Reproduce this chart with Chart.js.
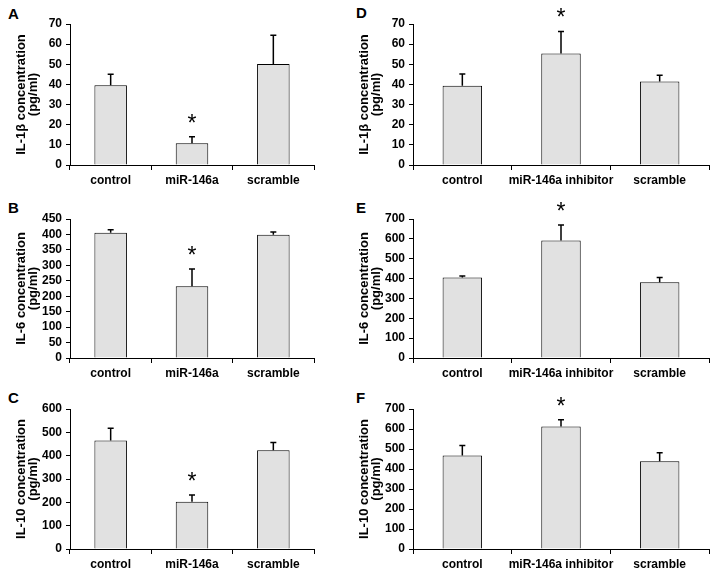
<!DOCTYPE html>
<html>
<head>
<meta charset="utf-8">
<script src="https://cdn.jsdelivr.net/npm/chart.js@4"></script>
<style>
  body { margin: 0; background: #fff; width: 721px; height: 576px; position: relative; overflow: hidden; font-family: "Liberation Sans", Arial, sans-serif; }
  .panel { position: absolute; }
  .letter { position: absolute; font-weight: bold; font-size: 15px; line-height: 15px; color: #000; }
</style>
</head>
<body>
<div class="letter" style="left:8px;top:6px">A</div>
<div class="letter" style="left:8px;top:200px">B</div>
<div class="letter" style="left:8px;top:390px">C</div>
<div class="letter" style="left:356px;top:5px">D</div>
<div class="letter" style="left:356px;top:200px">E</div>
<div class="letter" style="left:356px;top:390px">F</div>

<div class="panel" style="left:0;top:0;width:330px;height:192px"><canvas id="chartA"></canvas></div>
<div class="panel" style="left:0;top:192px;width:330px;height:193px"><canvas id="chartB"></canvas></div>
<div class="panel" style="left:0;top:385px;width:330px;height:191px"><canvas id="chartC"></canvas></div>
<div class="panel" style="left:345px;top:0;width:376px;height:192px"><canvas id="chartD"></canvas></div>
<div class="panel" style="left:345px;top:192px;width:376px;height:193px"><canvas id="chartE"></canvas></div>
<div class="panel" style="left:345px;top:385px;width:376px;height:191px"><canvas id="chartF"></canvas></div>

<script>
// categories
const mimicGroups = ["control", "miR-146a", "scramble"];
const inhibitorGroups = ["control", "miR-146a inhibitor", "scramble"];

// which bar gets an asterisk
const mimicStars = [false, true, false];
const inhibitorStars = [false, true, false];

// means and upper error (pg/ml)
const il1bMimic = [39.6, 10.8, 50.2];
const il1bMimicErr = [5.4, 3.2, 14.2];
const il6Mimic = [405.8, 232.5, 399.4];
const il6MimicErr = [9.7, 56, 8.6];
const il10Mimic = [465, 203, 423];
const il10MimicErr = [52.7, 28, 33.7];

const il1bInhibitor = [39.4, 55.4, 41.4];
const il1bInhibitorErr = [5.8, 10.9, 3.1];
const il6Inhibitor = [405, 592, 381];
const il6InhibitorErr = [8, 78, 25];
const il10Inhibitor = [467, 612, 439];
const il10InhibitorErr = [50, 34, 42];

// y tick labels
const ticksIL1b = [0, 10, 20, 30, 40, 50, 60, 70];
const ticksIL6Mimic = [0, 50, 100, 150, 200, 250, 300, 350, 400, 450];
const ticksIL10Mimic = [0, 100, 200, 300, 400, 500, 600];
const ticks700 = [0, 100, 200, 300, 400, 500, 600, 700];

const FONT = "'Liberation Sans', Arial, sans-serif";

// whiskers (upper only) + significance asterisk
const errorBars = {
  id: "errorBars",
  afterDatasetsDraw(chart) {
    const { ctx } = chart;
    const y = chart.scales.y;
    const ds = chart.data.datasets[0];
    const meta = chart.getDatasetMeta(0);
    ctx.save();
    ctx.strokeStyle = "#000";
    ctx.lineWidth = 1.5;
    meta.data.forEach((bar, i) => {
      const top = y.getPixelForValue(ds.data[i] + ds.errors[i]);
      ctx.beginPath();
      ctx.moveTo(bar.x, bar.y);
      ctx.lineTo(bar.x, top);
      ctx.moveTo(bar.x - 3, top);
      ctx.lineTo(bar.x + 3, top);
      ctx.stroke();
      if (ds.stars[i]) {
        ctx.fillStyle = "#000";
        ctx.font = "23px " + FONT;
        ctx.textAlign = "center";
        ctx.textBaseline = "alphabetic";
        ctx.fillText("*", bar.x, top - 6);
      }
    });
    ctx.restore();
  }
};

function panel(id, labels, values, errors, stars, ticks, title, yWidth, padRight, padTop, titlePad) {
  new Chart(document.getElementById(id), {
    type: "bar",
    data: {
      labels: labels,
      datasets: [{
        data: values,
        errors: errors,
        stars: stars,
        backgroundColor: "#e1e1e1",
        borderColor: "#000",
        borderWidth: 1,
        borderSkipped: "bottom",
        barPercentage: 0.4,
        categoryPercentage: 1
      }]
    },
    options: {
      responsive: true,
      maintainAspectRatio: false,
      animation: false,
      layout: { padding: { left: 0, top: padTop, right: padRight, bottom: 0 } },
      plugins: { legend: { display: false }, tooltip: { enabled: false } },
      scales: {
        x: {
          offset: true,
          grid: { offset: true, drawOnChartArea: false, drawTicks: true, tickLength: 5, color: "#000" },
          border: { display: true, color: "#000", width: 1 },
          ticks: {
            color: "#000",
            padding: 3,
            maxRotation: 0,
            autoSkip: false,
            font: { family: FONT, size: 12, weight: "bold" }
          },
          afterFit(axis) { axis.height = 27; }
        },
        y: {
          min: ticks[0],
          max: ticks[ticks.length - 1],
          grid: { drawOnChartArea: false, drawTicks: true, tickLength: 4, color: "#000" },
          border: { display: true, color: "#000", width: 1 },
          ticks: {
            stepSize: ticks[1] - ticks[0],
            autoSkip: false,
            color: "#000",
            padding: 4,
            font: { family: FONT, size: 12, weight: "bold" }
          },
          title: {
            display: true,
            text: [title, "(pg/ml)"],
            color: "#000",
            padding: { top: titlePad, bottom: 0 },
            font: { family: FONT, size: 13, weight: "bold", lineHeight: 0.95 }
          },
          afterFit(axis) { axis.width = yWidth; }
        }
      }
    },
    plugins: [errorBars]
  });
}

panel("chartA", mimicGroups, il1bMimic, il1bMimicErr, mimicStars, ticksIL1b, "IL-1\u03b2 concentration", 70, 16, 24, 15);
panel("chartB", mimicGroups, il6Mimic, il6MimicErr, mimicStars, ticksIL6Mimic, "IL-6 concentration", 70, 16, 27, 15);
panel("chartC", mimicGroups, il10Mimic, il10MimicErr, mimicStars, ticksIL10Mimic, "IL-10 concentration", 70, 16, 24, 15);
panel("chartD", inhibitorGroups, il1bInhibitor, il1bInhibitorErr, inhibitorStars, ticksIL1b, "IL-1\u03b2 concentration", 68, 12, 24, 13);
panel("chartE", inhibitorGroups, il6Inhibitor, il6InhibitorErr, inhibitorStars, ticks700, "IL-6 concentration", 68, 12, 27, 13);
panel("chartF", inhibitorGroups, il10Inhibitor, il10InhibitorErr, inhibitorStars, ticks700, "IL-10 concentration", 68, 12, 24, 13);
</script>
</body>
</html>
